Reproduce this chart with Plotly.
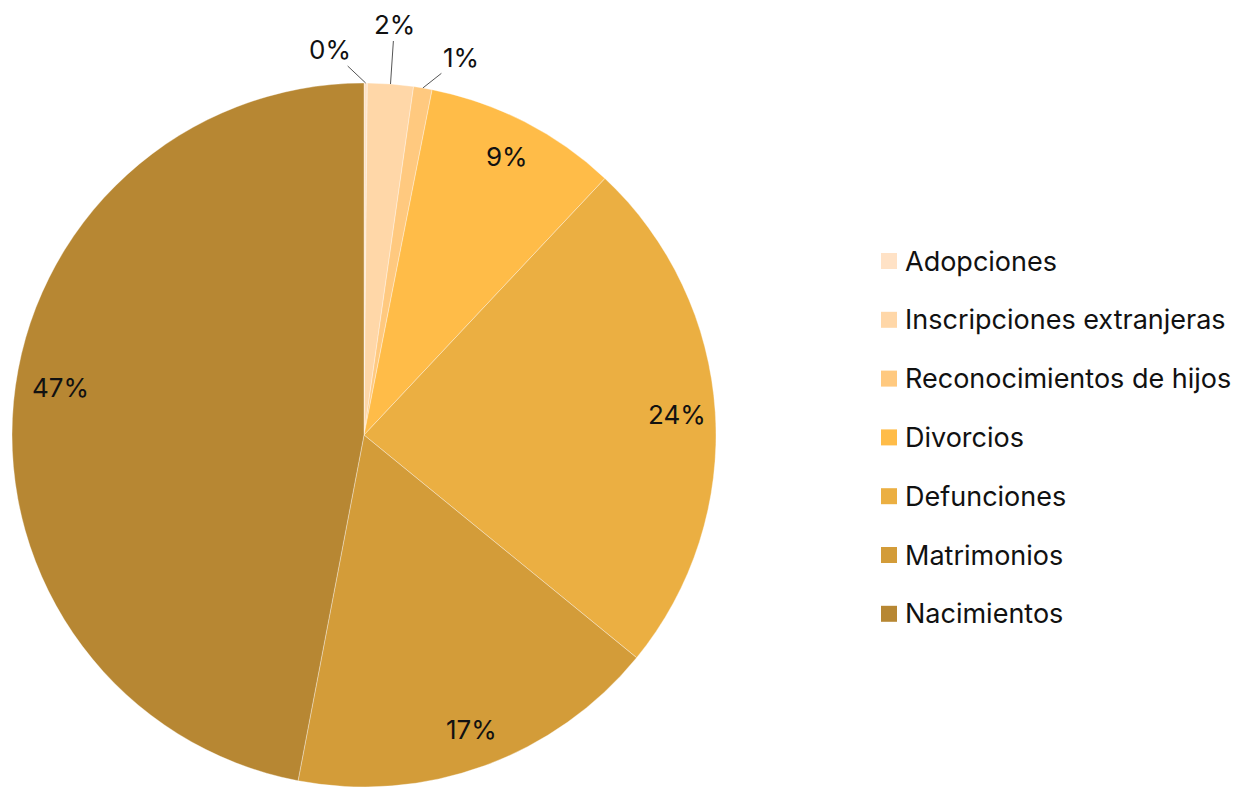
import math
import plotly.graph_objects as go

labels = ["Adopciones", "Inscripciones extranjeras", "Reconocimientos de hijos",
          "Divorcios", "Defunciones", "Matrimonios", "Nacimientos"]
values = [0.15, 2.1, 0.85, 8.9, 23.9, 17.1, 47.0]
pct_text = ["0%", "2%", "1%", "9%", "24%", "17%", "47%"]
colors = ["#FFE2C6", "#FFD7A8", "#FFC97F", "#FFBC48", "#EBAF42", "#D39C39", "#B78733"]

W, H = 1244, 787
FONT = "Inter"

# pie geometry (pixels)
R = 352
cx_px, cy_px = 364, 435
dom_x = [(cx_px - R) / W, (cx_px + R) / W]
dom_y = [(H - cy_px - R) / H, (H - cy_px + R) / H]

fig = go.Figure()
fig.add_trace(go.Pie(
    labels=labels, values=values, sort=False, direction="clockwise", rotation=0,
    marker=dict(colors=colors, line=dict(color="rgba(255,255,255,0.35)", width=1)),
    textinfo="none", hoverinfo="label+percent", showlegend=False,
    domain=dict(x=dom_x, y=dom_y),
))

# percentage labels, placed from the slice mid-angles
total = sum(values)
cum = 0
outside_offsets = {0: (-36, -34), 1: (4, -60), 2: (38, -30)}
nudge = {6: (8, -18)}  # excel "best fit" moves the big label a little
for i, v in enumerate(values):
    mid = (cum + v / 2) / total * 2 * math.pi
    cum += v
    if i in outside_offsets:
        ax, ay = outside_offsets[i]
        fig.add_annotation(
            x=(cx_px + R * math.sin(mid)) / W, y=(H - cy_px + R * math.cos(mid)) / H,
            xref="paper", yref="paper", text=pct_text[i], showarrow=True,
            arrowhead=0, arrowwidth=1, arrowcolor="#555555", ax=ax, ay=ay,
            font=dict(family=FONT, size=26, color="#111111"),
        )
    else:
        r = 0.89 * R
        dx, dy = nudge.get(i, (0, 0))
        fig.add_annotation(
            x=(cx_px + r * math.sin(mid) + dx) / W,
            y=(H - cy_px + r * math.cos(mid) - dy) / H,
            xref="paper", yref="paper", text=pct_text[i], showarrow=False,
            xanchor="center", yanchor="middle",
            font=dict(family=FONT, size=26, color="#111111"),
        )

# legend
leg_y0, leg_gap = 261, 58.8
for i, lab in enumerate(labels):
    yc = leg_y0 + i * leg_gap
    fig.add_shape(type="rect", xref="paper", yref="paper",
                  x0=881 / W, x1=897 / W, y0=(H - yc - 8) / H, y1=(H - yc + 8) / H,
                  fillcolor=colors[i], line=dict(width=0))
    fig.add_annotation(x=903 / W, y=(H - yc) / H, xref="paper", yref="paper",
                       text=lab, showarrow=False, xanchor="left", yanchor="middle",
                       font=dict(family=FONT, size=27, color="#111111"))

fig.update_layout(
    width=W, height=H, margin=dict(l=0, r=0, t=0, b=0),
    paper_bgcolor="white", plot_bgcolor="white",
)
fig.write_html("out.html", config={"displayModeBar": False},
               post_script="document.body.style.margin='0';")
